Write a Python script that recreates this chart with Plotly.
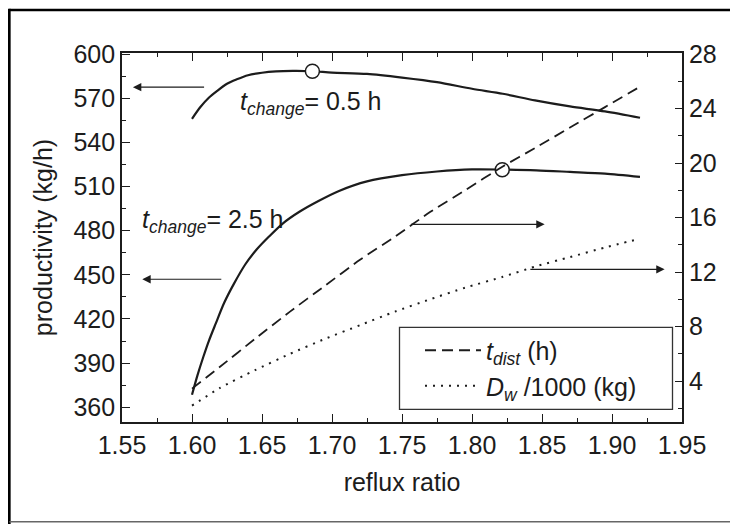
import plotly.graph_objects as go

# ---- data ----
x_change05 = [1.600, 1.606, 1.612, 1.618, 1.625, 1.632, 1.640, 1.650, 1.660, 1.672, 1.686,
              1.700, 1.725, 1.750, 1.775, 1.800, 1.822, 1.845, 1.870, 1.895, 1.920]
prod_change05 = [556.0, 564.0, 570.3, 575.0, 579.8, 582.8, 585.6, 587.3, 588.2, 588.5, 588.3,
                 587.4, 586.5, 584.0, 580.9, 576.4, 573.0, 568.5, 564.4, 561.0, 556.7]

x_change25 = [1.600, 1.604, 1.608, 1.612, 1.617, 1.623, 1.630, 1.638, 1.646, 1.655, 1.665, 1.677,
              1.690, 1.705, 1.725, 1.750, 1.775, 1.800, 1.822, 1.846, 1.870, 1.895, 1.920]
prod_change25 = [368.5, 382.0, 394.0, 405.0, 417.0, 431.0, 444.0, 457.0, 467.0, 476.0, 485.0, 493.0,
                 500.0, 507.0, 513.5, 517.7, 520.2, 521.6, 521.5, 521.0, 519.9, 518.7, 516.5]

x_right = [1.600, 1.620, 1.645, 1.670, 1.695, 1.720, 1.745, 1.770, 1.795, 1.822, 1.845, 1.870, 1.895, 1.920]
t_dist = [3.45, 5.05, 7.1, 9.1, 11.0, 12.9, 14.6, 16.4, 18.0, 19.75, 21.1, 22.6, 24.1, 25.6]
d_w = [2.2, 3.5, 4.8, 6.0, 7.1, 8.1, 9.1, 10.0, 10.85, 11.65, 12.4, 13.1, 13.8, 14.45]

opt_x = [1.686, 1.8216]
opt_y = [588.3, 521.4]

x_ticks = [1.55, 1.60, 1.65, 1.70, 1.75, 1.80, 1.85, 1.90, 1.95]
x_ticklabels = ["1.55", "1.60", "1.65", "1.70", "1.75", "1.80", "1.85", "1.90", "1.95"]

FONT = "Liberation Sans, Arial, sans-serif"
INK = "#1c1c1c"
FS = 25

# the page body has an 8px margin: the figure occupies page x 8..738, y 8..524
OFF = 8
FIG_W, FIG_H = 738 - OFF, 524 - OFF
# plot area in page pixels
L, R, T, B = 122, 682, 53, 422
W, H = R - L, B - T


def px(x):
    return (x - L) / W


def py(y):
    return (B - y) / H


fig = go.Figure()

fig.add_trace(go.Scatter(x=x_change05, y=prod_change05, mode="lines", showlegend=False,
                         line=dict(color=INK, width=2.2, shape="spline", smoothing=0.8)))
fig.add_trace(go.Scatter(x=x_change25, y=prod_change25, mode="lines", showlegend=False,
                         line=dict(color=INK, width=2.2, shape="spline", smoothing=0.8)))
fig.add_trace(go.Scatter(x=x_right, y=t_dist, mode="lines", yaxis="y2", legendgroup="a",
                         name="<i>t</i><sub><i>dist</i></sub> (h)",
                         line=dict(color=INK, width=1.8, dash="11px,6px", shape="spline", smoothing=0.6)))
fig.add_trace(go.Scatter(x=x_right, y=d_w, mode="lines", yaxis="y2", legendgroup="b",
                         name="<i>D</i><sub><i>w</i></sub> /1000 (kg)",
                         line=dict(color=INK, width=2, dash="2px,6px", shape="spline", smoothing=0.6)))
fig.add_trace(go.Scatter(x=opt_x, y=opt_y, mode="markers", showlegend=False,
                         marker=dict(size=14, color="white", line=dict(color=INK, width=1.5))))

shapes = [
    # outer figure frame (top, left, bottom)
    dict(type="line", xref="paper", yref="paper", x0=px(9.3), x1=px(760), y0=py(10), y1=py(10),
         line=dict(color="black", width=2.7)),
    dict(type="line", xref="paper", yref="paper", x0=px(9.3), x1=px(9.3), y0=py(8.7), y1=py(530),
         line=dict(color="black", width=2.7)),
    dict(type="line", xref="paper", yref="paper", x0=px(9.3), x1=px(760), y0=py(521.7), y1=py(521.7),
         line=dict(color="#666", width=1.5)),
    # legend box
    dict(type="rect", xref="paper", yref="paper", x0=px(399.5), x1=px(672.5), y0=py(409.3), y1=py(327.3),
         line=dict(color="#333", width=1.3), fillcolor="rgba(0,0,0,0)"),
]

annotations = [
    dict(x=1.6328, y=566.5, xref="x", yref="y", xanchor="left", yanchor="middle", showarrow=False,
         text="<i>t</i><sub><i>change</i></sub>= 0.5 h", font=dict(size=FS, color=INK, family=FONT)),
    dict(x=1.5631, y=486.5, xref="x", yref="y", xanchor="left", yanchor="middle", showarrow=False,
         text="<i>t</i><sub><i>change</i></sub>= 2.5 h", font=dict(size=FS, color=INK, family=FONT)),
]
arrows = [
    ("y", 1.6097, 577.5, 1.5578, 577.5),
    ("y", 1.6220, 447.0, 1.5645, 447.0),
    ("y2", 1.7554, 15.5, 1.8519, 15.5),
    ("y2", 1.8406, 12.2, 1.9376, 12.2),
]
for yref, x0, y0, x1, y1 in arrows:
    annotations.append(dict(x=x1, y=y1, ax=x0, ay=y0, xref="x", yref=yref, axref="x", ayref=yref,
                            text="", showarrow=True, arrowhead=2, arrowsize=1.4, arrowwidth=1.2,
                            arrowcolor=INK, standoff=0, startstandoff=0))

fig.update_layout(
    width=FIG_W, height=FIG_H,
    margin=dict(l=L - OFF, r=738 - R, t=T - OFF, b=524 - B),
    paper_bgcolor="white", plot_bgcolor="white",
    font=dict(family=FONT, size=FS, color=INK),
    shapes=shapes, annotations=annotations,
    legend=dict(x=px(420), y=py(327.5), xanchor="left", yanchor="top", bgcolor="rgba(0,0,0,0)",
                borderwidth=0, itemwidth=56, tracegroupgap=0,
                font=dict(size=FS, family=FONT, color=INK)),
    xaxis=dict(range=[1.55, 1.95], tickvals=x_ticks, ticktext=x_ticklabels, ticks="inside", ticklen=8,
               tickwidth=1.3, tickcolor=INK, showline=True, linecolor=INK, linewidth=1.8, mirror="ticks",
               showgrid=False, zeroline=False,
               minor=dict(dtick=0.025, tick0=1.55, ticks="inside", ticklen=4, tickwidth=1.2, tickcolor=INK),
               title=dict(text="reflux ratio", standoff=16, font=dict(size=FS))),
    yaxis=dict(range=[350, 600.7], dtick=30, tick0=360, ticks="inside", ticklen=8, tickwidth=1.3,
               tickcolor=INK, showline=True, linecolor=INK, linewidth=1.8, showgrid=False, zeroline=False,
               minor=dict(dtick=15, tick0=345, ticks="inside", ticklen=4, tickwidth=1.2, tickcolor=INK),
               title=dict(text="productivity (kg/h)", standoff=14, font=dict(size=FS))),
    yaxis2=dict(range=[1.0, 28.07], overlaying="y", side="right", dtick=4, tick0=4, ticks="inside",
                ticklen=7, tickwidth=1.3, tickcolor=INK, showline=True, linecolor=INK, linewidth=1.8,
                showgrid=False, zeroline=False,
                minor=dict(dtick=2, tick0=2, ticks="inside", ticklen=4, tickwidth=1.2, tickcolor=INK)),
)

fig.write_html("out.html")
